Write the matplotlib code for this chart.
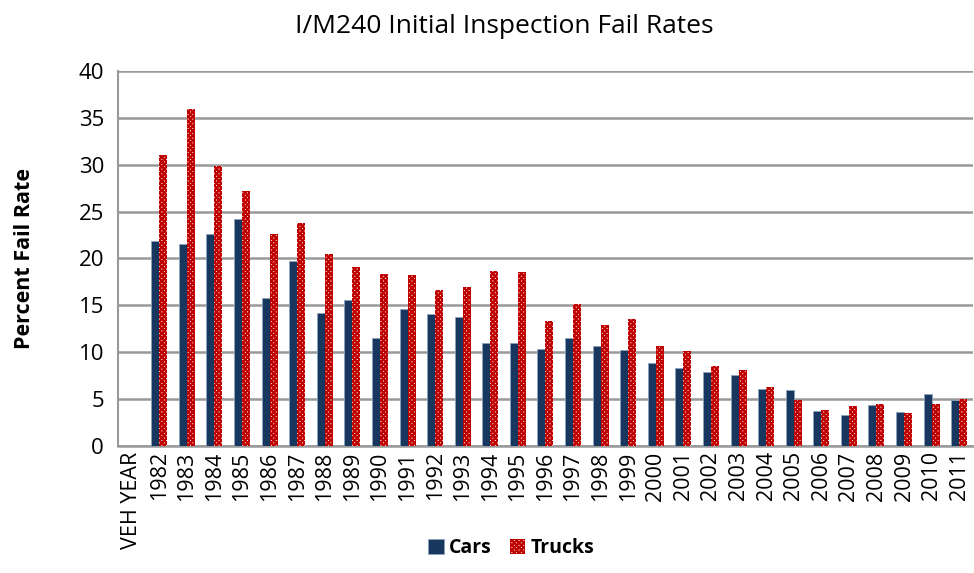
import numpy as np
import matplotlib
matplotlib.use("Agg")
import matplotlib.pyplot as plt

plt.rcParams['font.family'] = ['Open Sans', 'DejaVu Sans']
plt.rcParams['hatch.linewidth'] = 1.6

years = ['VEH YEAR'] + [str(y) for y in range(1982, 2012)]
cars = [np.nan, 21.9, 21.5, 22.6, 24.2, 15.8, 19.7, 14.2, 15.6, 11.5, 14.6,
        14.1, 13.7, 11.0, 11.0, 10.3, 11.5, 10.6, 10.2, 8.8, 8.3,
        7.9, 7.6, 6.1, 6.0, 3.7, 3.3, 4.4, 3.6, 5.5, 4.9]
trucks = [np.nan, 31.0, 36.0, 29.9, 27.2, 22.6, 23.8, 20.5, 19.1, 18.3, 18.2,
          16.6, 16.9, 18.7, 18.6, 13.3, 15.1, 12.9, 13.5, 10.7, 10.1,
          8.5, 8.1, 6.3, 4.9, 3.85, 4.3, 4.5, 3.5, 4.5, 5.0]

fig = plt.figure(figsize=(9.74, 5.73), dpi=100)
ax = fig.add_axes([0.121, 0.222, 0.878, 0.654])

x = np.arange(len(years))
w = 0.29
ax.bar(x - w / 2, cars, w, color='#17375E', edgecolor='#8EA2BC', linewidth=0.6,
       label='Cars', zorder=3)
ax.bar(x + w / 2, trucks, w, color='white', edgecolor='#C00000', hatch='xxxxxxx',
       linewidth=0, label='Trucks', zorder=3)

ax.set_xlim(-0.5, len(years) - 0.5)
ax.set_ylim(0, 40)
ax.set_yticks(range(0, 41, 5))
ax.set_xticks(x)
ax.set_xticklabels(years, rotation=90, fontsize=15.5)
ax.tick_params(axis='y', labelsize=16, length=0, pad=10)
ax.tick_params(axis='x', length=0, pad=4)
ax.yaxis.grid(True, color='#999999', linewidth=1.8, zorder=0)
ax.set_axisbelow(True)
for s in ['top', 'right']:
    ax.spines[s].set_visible(False)
ax.spines['left'].set_color('#999999')
ax.spines['left'].set_linewidth(1.5)
ax.spines['bottom'].set_color('#999999')
ax.spines['bottom'].set_linewidth(1.8)

ax.set_ylabel('Percent Fail Rate', fontsize=15.5, fontweight='bold', labelpad=31)
fig.suptitle('I/M240 Initial Inspection Fail Rates', fontsize=19, x=0.518, y=0.975)

leg = fig.legend(loc='lower center', bbox_to_anchor=(0.525, -0.005), ncol=2,
                 frameon=False, prop={'weight': 'bold', 'size': 14},
                 handlelength=0.8, handleheight=0.8, handletextpad=0.3,
                 columnspacing=0.9)

fig.savefig('out.png', dpi=100)
